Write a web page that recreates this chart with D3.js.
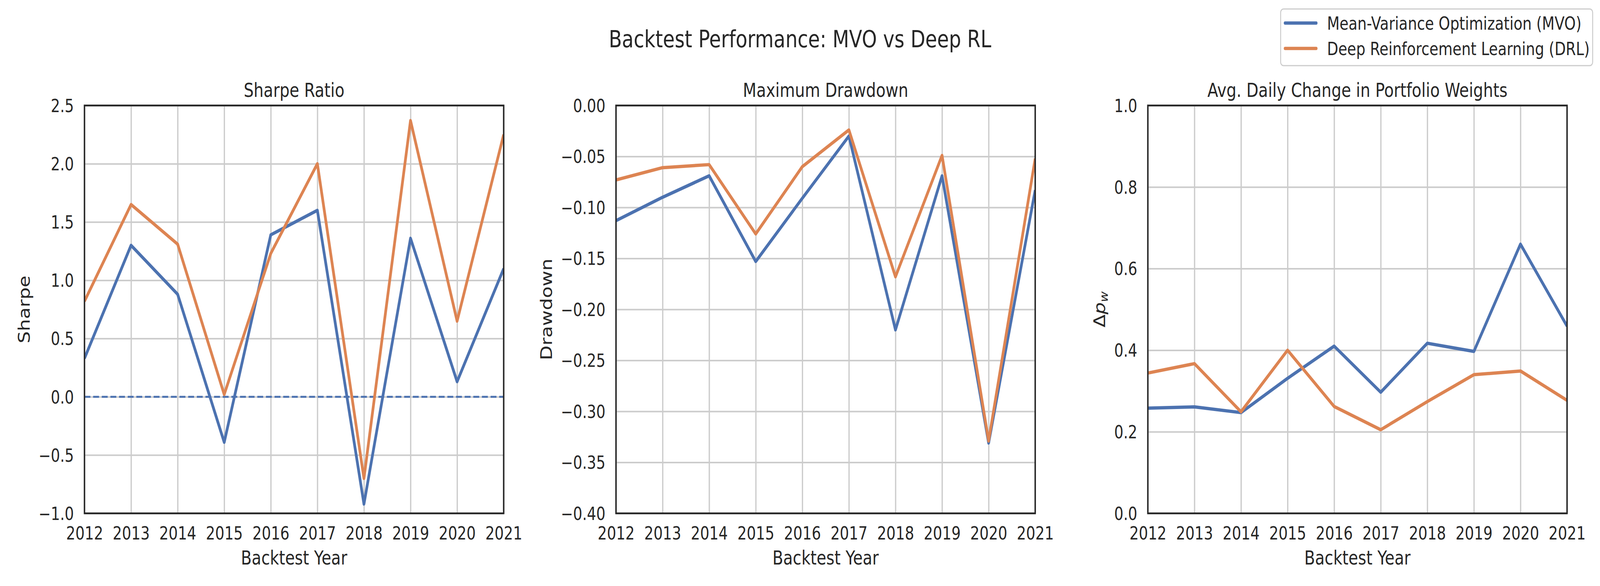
<!DOCTYPE html>
<html>
<head>
<meta charset="utf-8">
<script src="https://cdn.jsdelivr.net/npm/d3@7"></script>
<style>
  html, body { margin: 0; padding: 0; width: 100%; height: 100%; background: #fff; overflow: hidden; }
  svg { display: block; width: 100vw; height: 100vh; }
  text { font-family: "DejaVu Sans", sans-serif; fill: #262626; }
</style>
</head>
<body>
<script>
// backtest years on the x axis
const years = [2012, 2013, 2014, 2015, 2016, 2017, 2018, 2019, 2020, 2021];

// values
const sharpeMVO = [0.33, 1.30, 0.88, -0.39, 1.39, 1.60, -0.92, 1.36, 0.13, 1.10];
const sharpeDRL = [0.82, 1.65, 1.31, 0.02, 1.23, 2.00, -0.70, 2.37, 0.65, 2.25];
const drawdownMVO = [-0.113, -0.090, -0.069, -0.153, -0.091, -0.030, -0.220, -0.069, -0.331, -0.083];
const drawdownDRL = [-0.073, -0.061, -0.058, -0.126, -0.060, -0.024, -0.168, -0.049, -0.329, -0.052];
const weightsMVO = [0.258, 0.261, 0.247, 0.331, 0.410, 0.297, 0.417, 0.397, 0.660, 0.459];
const weightsDRL = [0.344, 0.367, 0.249, 0.400, 0.262, 0.205, 0.274, 0.340, 0.349, 0.277];

const sharpeTicks = [-1.0, -0.5, 0.0, 0.5, 1.0, 1.5, 2.0, 2.5];
const drawdownTicks = [-0.40, -0.35, -0.30, -0.25, -0.20, -0.15, -0.10, -0.05, 0.00];
const weightTicks = [0.0, 0.2, 0.4, 0.6, 0.8, 1.0];

const seriesNames = ["Mean-Variance Optimization (MVO)", "Deep Reinforcement Learning (DRL)"];
const colors = ["#4C72B0", "#DD8452"];

const panels = [
    {title: "Sharpe Ratio", ylabel: "Sharpe", domain: [-1, 2.5], ticks: sharpeTicks, fmt: ".1f", series: [sharpeMVO, sharpeDRL], zero: true},
    {title: "Maximum Drawdown", ylabel: "Drawdown", domain: [-0.4, 0], ticks: drawdownTicks, fmt: ".2f", series: [drawdownMVO, drawdownDRL]},
    {title: "Avg. Daily Change in Portfolio Weights", ylabel: null, domain: [0, 1], ticks: weightTicks, fmt: ".1f", series: [weightsMVO, weightsDRL]}
];

var W = 5000, H = 1500;
var width = 1310, height = 1044, top0 = 270;
var lefts = [264, 1925, 3587];

// the browser window is narrower than 5000, so draw in 5000x1500 units and
// let the viewBox fill the window
var svg = d3.select("body").append("svg")
    .attr("viewBox", "0 0 " + W + " " + H)
    .attr("preserveAspectRatio", "none");
svg.append("rect").attr("width", W).attr("height", H).attr("fill", "#fff");

svg.append("text")
    .attr("x", W / 2).attr("y", 121)
    .attr("text-anchor", "middle")
    .attr("font-size", 60)
    .text("Backtest Performance: MVO vs Deep RL");

panels.forEach(function(p, i) {
    var g = svg.append("g").attr("transform", "translate(" + lefts[i] + "," + top0 + ")");
    var x = d3.scaleLinear().domain([2012, 2021]).range([0, width]);
    var y = d3.scaleLinear().domain(p.domain).range([height, 0]);

    // grid
    var gx = g.append("g").attr("transform", "translate(0," + height + ")")
        .call(d3.axisBottom(x).tickValues(years).tickSize(-height).tickFormat(""));
    var gy = g.append("g")
        .call(d3.axisLeft(y).tickValues(p.ticks).tickSize(-width).tickFormat(""));
    [gx, gy].forEach(a => {
        a.select(".domain").remove();
        a.selectAll("line").attr("stroke", "#cccccc").attr("stroke-width", 4);
    });

    // tick labels
    var xl = g.append("g").attr("transform", "translate(0," + height + ")")
        .call(d3.axisBottom(x).tickValues(years).tickSize(0).tickPadding(35).tickFormat(d3.format("d")));
    var yl = g.append("g")
        .call(d3.axisLeft(y).tickValues(p.ticks).tickSize(0).tickPadding(33).tickFormat(d3.format(p.fmt)));
    [xl, yl].forEach(a => {
        a.select(".domain").remove();
        a.selectAll("text").attr("font-size", 45.5).attr("fill", "#262626")
            .attr("font-family", "DejaVu Sans");
    });
    yl.selectAll("text").attr("dy", "0.36em");

    var clipId = "clip" + i;
    g.append("clipPath").attr("id", clipId)
        .append("rect").attr("width", width).attr("height", height);
    var plot = g.append("g").attr("clip-path", "url(#" + clipId + ")");

    if (p.zero) {
        plot.append("line")
            .attr("x1", 0).attr("x2", width)
            .attr("y1", y(0)).attr("y2", y(0))
            .attr("stroke", colors[0])
            .attr("stroke-width", 5)
            .attr("stroke-dasharray", "18.5,8.5");
    }

    var line = d3.line().x((d, k) => x(years[k])).y(d => y(d));
    p.series.forEach(function(s, k) {
        plot.append("path")
            .attr("d", line(s))
            .attr("fill", "none")
            .attr("stroke", colors[k])
            .attr("stroke-width", 8.5)
            .attr("stroke-linejoin", "round");
    });

    // spines
    g.append("rect")
        .attr("width", width).attr("height", height)
        .attr("fill", "none")
        .attr("stroke", "#262626")
        .attr("stroke-width", 4.5);

    g.append("text")
        .attr("x", width / 2).attr("y", -22)
        .attr("text-anchor", "middle")
        .attr("font-size", 49)
        .text(p.title);

    g.append("text")
        .attr("x", width / 2).attr("y", height + 131)
        .attr("text-anchor", "middle")
        .attr("font-size", 49)
        .text("Backtest Year");

    // y label sits left of the widest tick label
    var maxW = d3.max(yl.selectAll("text").nodes(), n => n.getComputedTextLength());
    var lx = -33 - maxW - 16 - 12;
    var lab = g.append("text")
        .attr("transform", "translate(" + lx + "," + (height / 2) + ") rotate(-90)")
        .attr("text-anchor", "middle")
        .attr("font-size", 49);
    if (p.ylabel) {
        lab.text(p.ylabel);
    } else {
        lab.append("tspan").text("Δ");
        lab.append("tspan").attr("font-style", "italic").text("p");
        lab.append("tspan").attr("font-style", "italic").attr("font-size", 34).attr("dy", 8).text("w");
    }
});

// legend
var legend = svg.append("g");
legend.append("rect")
    .attr("x", 4002).attr("y", 23)
    .attr("width", 975).attr("height", 145)
    .attr("rx", 9)
    .attr("fill", "#fff").attr("fill-opacity", 0.8)
    .attr("stroke", "#cccccc").attr("stroke-width", 3);
seriesNames.forEach(function(name, k) {
    var ly = 59 + k * 65;
    legend.append("line")
        .attr("x1", 4016).attr("x2", 4113)
        .attr("y1", ly).attr("y2", ly)
        .attr("stroke", colors[k])
        .attr("stroke-width", 8.5)
        .attr("stroke-linecap", "round");
    legend.append("text")
        .attr("x", 4147).attr("y", ly + 17)
        .attr("font-size", 45.5)
        .text(name);
});
</script>
</body>
</html>
